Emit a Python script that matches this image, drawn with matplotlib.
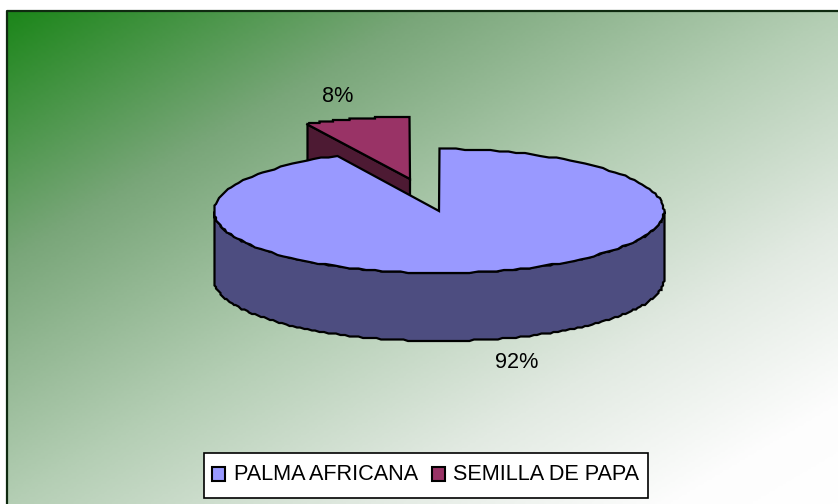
import matplotlib
matplotlib.use('Agg')
import matplotlib.pyplot as plt
from matplotlib.colors import LinearSegmentedColormap
from matplotlib.patches import Polygon, Rectangle
import numpy as np

plt.rcParams['font.family'] = ['Liberation Sans', 'DejaVu Sans']

categories = ['PALMA AFRICANA', 'SEMILLA DE PAPA']
values = [92.5, 7.5]
pct_labels = ['92%', '8%']
top_colors = ['#9999FF', '#993366']
wall_colors = ['#4D4D80', '#4D1A33']

W, H = 838, 504
frame_x, frame_y = 7, 11

# pie geometry, pixels
cx, cy = 439, 211
rx, ry = 225, 62
depth = 68
explode = (-29, -32)

fig = plt.figure(figsize=(W / 100, H / 100), dpi=100, facecolor='white')
ax = fig.add_axes([0, 0, 1, 1])
ax.set_xlim(0, W)
ax.set_ylim(H, 0)
ax.axis('off')

# background gradient runs off the right and bottom edges
cmap = LinearSegmentedColormap.from_list('bg', [(0, '#1C861A'), (0.25, '#79A679'),
                                               (0.5, '#B4CEB4'), (0.72, '#E2EAE2'),
                                               (0.9, '#FDFDFD'), (1, '#FFFFFF')])
xx, yy = np.meshgrid(np.linspace(0, 1, 300), np.linspace(0, 1, 200))
ax.imshow((xx + yy) / 2, cmap=cmap, extent=(frame_x, W, H, frame_y), aspect='auto', zorder=0)
ax.set_xlim(0, W)
ax.set_ylim(H, 0)
ax.plot([frame_x, frame_x, W], [H, frame_y, frame_y], color='#0F2A10', lw=1.6, zorder=1)


def arc(a0, a1, ox=0, oy=0):
    t = np.radians(np.linspace(a0, a1, 150))
    pts = np.column_stack([cx + ox + rx * np.cos(t), cy + oy - ry * np.sin(t)])
    # slightly stepped outline, like the reference
    return np.round(pts / 1.5) * 1.5


# slices run clockwise from 12 o'clock
main_start = 90
main_end = 90 - values[0] * 3.6
small_start = main_end
small_end = main_end - values[1] * 3.6
ox, oy = explode

# small slice goes behind the big one
small_rim = arc(small_start, small_end, ox, oy)
apex = np.array([cx + ox, cy + oy])
cut = np.array([apex, small_rim[0], small_rim[0] + [0, depth], apex + [0, depth]])
ax.add_patch(Polygon(cut, fc=wall_colors[1], ec='black', lw=1.6, zorder=2))
ax.add_patch(Polygon(np.vstack([apex, small_rim]), fc=top_colors[1], ec='black', lw=1.6,
                     joinstyle='miter', zorder=3))

# big slice: front wall, then top
front = arc(180, 360)
wall = np.vstack([front, (front + [0, depth])[::-1]])
ax.add_patch(Polygon(wall, fc=wall_colors[0], ec='black', lw=1.6, zorder=4))
main_rim = arc(main_start, main_end)
ax.add_patch(Polygon(np.vstack([[cx, cy], main_rim]), fc=top_colors[0], ec='black', lw=1.6,
                     joinstyle='miter', zorder=5))

ax.text(516.5, 363, pct_labels[0], fontsize=15.6, color='black', ha='center', va='center', zorder=6)
ax.text(337.5, 96, pct_labels[1], fontsize=15.6, color='black', ha='center', va='center', zorder=6)

# legend box drawn by hand, the spacing is too uneven for ax.legend
ax.add_patch(Rectangle((204, 453), 444, 45, fc='white', ec='black', lw=1.2, zorder=6))
swatch_x = [212, 432]
text_x = [234, 453]
for sx, tx, name, col in zip(swatch_x, text_x, categories, top_colors):
    ax.add_patch(Rectangle((sx, 467), 13, 14, fc=col, ec='black', lw=1.5, zorder=7))
    ax.text(tx, 474, name, fontsize=15.6, color='black', ha='left', va='center', zorder=7)

fig.savefig('out.png', dpi=100)
